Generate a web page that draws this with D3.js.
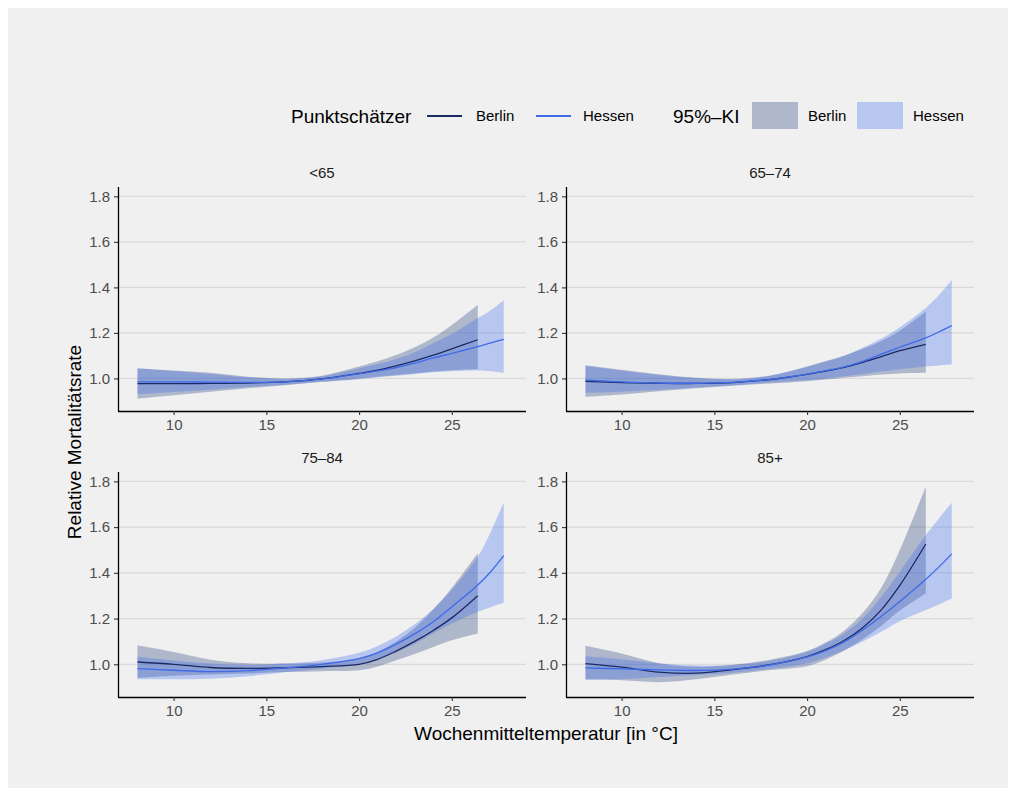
<!DOCTYPE html>
<html>
<head>
<meta charset="utf-8">
<script src="https://cdn.jsdelivr.net/npm/d3@7"></script>
<style>
  html, body { margin: 0; padding: 0; background: #ffffff; }
  svg { display: block; font-family: "Liberation Sans", Arial, Helvetica, sans-serif; }
</style>
</head>
<body>
<svg id="chart" width="1016" height="796"></svg>
<script>
// Age groups (facets)
const ageGroups = ["<65", "65\u201374", "75\u201384", "85+"];

// Weekly mean temperature grid (°C); Berlin stops at 26.4, Hessen continues to 27.8
const temps = [8.05, 10, 12, 14, 16, 18, 20, 21, 22, 23, 24, 25, 26.4, 27.1, 27.8];

// Berlin point estimates and 95% CI, one row per age group
const berlinFit = [
  [0.977, 0.977, 0.978, 0.980, 0.985, 0.998, 1.022, 1.036, 1.055, 1.077, 1.102, 1.130, 1.170],
  [0.987, 0.982, 0.979, 0.978, 0.982, 0.995, 1.018, 1.032, 1.049, 1.071, 1.096, 1.122, 1.150],
  [1.010, 1.000, 0.986, 0.982, 0.985, 0.990, 1.000, 1.022, 1.058, 1.100, 1.148, 1.203, 1.300],
  [1.003, 0.988, 0.966, 0.961, 0.977, 0.998, 1.034, 1.064, 1.104, 1.160, 1.238, 1.345, 1.526]
];
const berlinLow = [
  [0.911, 0.926, 0.942, 0.957, 0.970, 0.985, 0.999, 1.007, 1.015, 1.022, 1.030, 1.036, 1.040],
  [0.920, 0.930, 0.944, 0.957, 0.968, 0.978, 0.988, 0.995, 1.003, 1.010, 1.017, 1.022, 1.025],
  [0.940, 0.950, 0.955, 0.960, 0.966, 0.970, 0.974, 0.990, 1.018, 1.045, 1.076, 1.105, 1.135],
  [0.933, 0.930, 0.922, 0.935, 0.955, 0.975, 0.992, 1.020, 1.060, 1.110, 1.168, 1.235, 1.310]
];
const berlinHigh = [
  [1.044, 1.035, 1.025, 1.008, 1.000, 1.012, 1.052, 1.075, 1.103, 1.137, 1.180, 1.235, 1.323],
  [1.058, 1.038, 1.018, 1.003, 0.997, 1.012, 1.052, 1.075, 1.100, 1.130, 1.165, 1.210, 1.294],
  [1.083, 1.054, 1.020, 1.005, 1.003, 1.008, 1.027, 1.055, 1.100, 1.160, 1.240, 1.335, 1.486],
  [1.081, 1.047, 1.005, 0.990, 0.998, 1.020, 1.058, 1.095, 1.147, 1.225, 1.335, 1.500, 1.778]
];

// Hessen point estimates and 95% CI, one row per age group
const hessenFit = [
  [0.985, 0.985, 0.984, 0.983, 0.985, 0.998, 1.020, 1.033, 1.048, 1.067, 1.090, 1.110, 1.140, 1.156, 1.172],
  [0.993, 0.985, 0.980, 0.979, 0.983, 0.996, 1.019, 1.034, 1.051, 1.075, 1.107, 1.137, 1.178, 1.204, 1.232],
  [0.981, 0.974, 0.968, 0.972, 0.984, 1.000, 1.025, 1.050, 1.088, 1.133, 1.186, 1.251, 1.347, 1.405, 1.475],
  [0.984, 0.980, 0.976, 0.973, 0.979, 0.997, 1.032, 1.060, 1.098, 1.150, 1.210, 1.275, 1.372, 1.425, 1.483]
];
const hessenLow = [
  [0.930, 0.940, 0.950, 0.962, 0.972, 0.985, 0.997, 1.005, 1.012, 1.020, 1.027, 1.032, 1.035, 1.032, 1.025],
  [0.937, 0.942, 0.950, 0.960, 0.970, 0.982, 0.992, 1.000, 1.010, 1.020, 1.030, 1.040, 1.052, 1.057, 1.061],
  [0.935, 0.935, 0.937, 0.948, 0.965, 0.982, 1.000, 1.022, 1.053, 1.090, 1.135, 1.178, 1.230, 1.250, 1.269],
  [0.933, 0.935, 0.945, 0.953, 0.963, 0.980, 1.005, 1.030, 1.062, 1.100, 1.142, 1.188, 1.237, 1.262, 1.288]
];
const hessenHigh = [
  [1.045, 1.033, 1.020, 1.005, 0.998, 1.010, 1.045, 1.063, 1.085, 1.115, 1.155, 1.195, 1.265, 1.300, 1.344],
  [1.055, 1.035, 1.015, 1.002, 0.998, 1.013, 1.050, 1.075, 1.100, 1.135, 1.175, 1.225, 1.310, 1.365, 1.433],
  [1.033, 1.017, 1.003, 0.997, 1.003, 1.018, 1.050, 1.080, 1.122, 1.175, 1.242, 1.325, 1.470, 1.580, 1.708],
  [1.035, 1.022, 1.005, 0.995, 0.997, 1.015, 1.055, 1.090, 1.135, 1.200, 1.295, 1.405, 1.565, 1.637, 1.707]
];

// Axis ticks
const xTicks = [10, 15, 20, 25];
const yTicks = [1.0, 1.2, 1.4, 1.6, 1.8];

// Legend labels
const regions = ["Berlin", "Hessen"];

// Colours
const lineColor = { Berlin: "#1c2a63", Hessen: "#3f6ae8" };
const fillColor = { Berlin: "#1b3578", Hessen: "#396bf0" };
const fillAlpha = 0.3;

const svg = d3.select("#chart");

// Plot background
svg.append("rect").attr("x", 8).attr("y", 8).attr("width", 1000).attr("height", 780).attr("fill", "#f0f0f0");

// Facet layout (2 x 2)
const panelW = 408;
const colX = [118, 566];
const rowY = [{ top: 187, bottom: 411 }, { top: 472, bottom: 697 }];

const smooth = d3.curveCatmullRom.alpha(0.5);

const seriesFor = (g) => [
  {
    name: "Berlin",
    rows: temps.slice(0, berlinFit[g].length).map((t, i) => ({ t, fit: berlinFit[g][i], lo: berlinLow[g][i], hi: berlinHigh[g][i] }))
  },
  {
    name: "Hessen",
    rows: temps.slice(0, hessenFit[g].length).map((t, i) => ({ t, fit: hessenFit[g][i], lo: hessenLow[g][i], hi: hessenHigh[g][i] }))
  }
];

ageGroups.forEach((label, g) => {
  const col = g % 2, row = Math.floor(g / 2);
  const x0 = colX[col], { top, bottom } = rowY[row];
  const x = d3.scaleLinear().domain([7, 29]).range([x0, x0 + panelW]);
  const y = d3.scaleLinear().domain([0.857, 1.841]).range([bottom, top]);

  const panel = svg.append("g");

  // Horizontal grid lines
  panel.selectAll("line.grid").data(yTicks).join("line")
    .attr("x1", x0).attr("x2", x0 + panelW)
    .attr("y1", d => y(d)).attr("y2", d => y(d))
    .attr("stroke", "#dadada").attr("stroke-width", 1.2);

  const series = seriesFor(g);

  // Confidence ribbons
  const area = d3.area().curve(smooth)
    .x(d => x(d.t)).y0(d => y(d.lo)).y1(d => y(d.hi));
  panel.selectAll("path.band").data(series).join("path")
    .attr("d", s => area(s.rows))
    .attr("fill", s => fillColor[s.name])
    .attr("fill-opacity", fillAlpha);

  // Point estimates
  const line = d3.line().curve(smooth).x(d => x(d.t)).y(d => y(d.fit));
  panel.selectAll("path.fit").data(series).join("path")
    .attr("d", s => line(s.rows))
    .attr("fill", "none")
    .attr("stroke", s => lineColor[s.name])
    .attr("stroke-width", 1.3);

  // Axes
  const xAxis = panel.append("g").attr("transform", `translate(0,${bottom})`)
    .call(d3.axisBottom(x).tickValues(xTicks).tickFormat(d3.format("d")).tickSize(4).tickPadding(4));
  const yAxis = panel.append("g").attr("transform", `translate(${x0},0)`)
    .call(d3.axisLeft(y).tickValues(yTicks).tickFormat(d3.format(".1f")).tickSize(4).tickPadding(4));
  [xAxis, yAxis].forEach(a => {
    a.select(".domain").attr("stroke", "#000").attr("stroke-width", 1.3);
    a.selectAll(".tick line").attr("stroke", "#333").attr("stroke-width", 1.1);
    a.selectAll(".tick text").attr("fill", "#4d4d4d").attr("font-size", 15)
      .attr("font-family", "Liberation Sans, Arial, sans-serif");
  });
  // Axis lines span the full panel edge
  xAxis.select(".domain").attr("d", `M${x0},0.5H${x0 + panelW}`);
  yAxis.select(".domain").attr("d", `M0.5,${top}V${bottom}`);

  // Facet title
  panel.append("text")
    .attr("x", x0 + panelW / 2).attr("y", top - 9)
    .attr("text-anchor", "middle").attr("font-size", 15).attr("fill", "#1a1a1a")
    .text(label);
});

// Axis titles
svg.append("text")
  .attr("x", 546).attr("y", 740)
  .attr("text-anchor", "middle").attr("font-size", 19).attr("fill", "#000")
  .text("Wochenmitteltemperatur [in \u00B0C]");
svg.append("text")
  .attr("transform", "translate(81,442) rotate(-90)")
  .attr("text-anchor", "middle").attr("font-size", 19).attr("fill", "#000")
  .text("Relative Mortalit\u00E4tsrate");

// Legend
const legend = svg.append("g");
const ly = 116;
legend.append("text").attr("x", 291).attr("y", ly + 6.8).attr("font-size", 19).text("Punktsch\u00E4tzer");
const lineKeys = [{ x: 427, label: 476 }, { x: 536, label: 583 }];
regions.forEach((r, i) => {
  legend.append("line")
    .attr("x1", lineKeys[i].x).attr("x2", lineKeys[i].x + 35)
    .attr("y1", ly).attr("y2", ly)
    .attr("stroke", lineColor[r]).attr("stroke-width", 2);
  legend.append("text").attr("x", lineKeys[i].label).attr("y", ly + 5.4).attr("font-size", 15).text(r);
});
legend.append("text").attr("x", 673).attr("y", ly + 6.8).attr("font-size", 19).text("95%\u2013KI");
const boxKeys = [{ x: 752, label: 808 }, { x: 857, label: 913 }];
regions.forEach((r, i) => {
  legend.append("rect")
    .attr("x", boxKeys[i].x).attr("y", 102).attr("width", 46).attr("height", 27)
    .attr("fill", fillColor[r]).attr("fill-opacity", fillAlpha);
  legend.append("text").attr("x", boxKeys[i].label).attr("y", ly + 5.4).attr("font-size", 15).text(r);
});
</script>
</body>
</html>
